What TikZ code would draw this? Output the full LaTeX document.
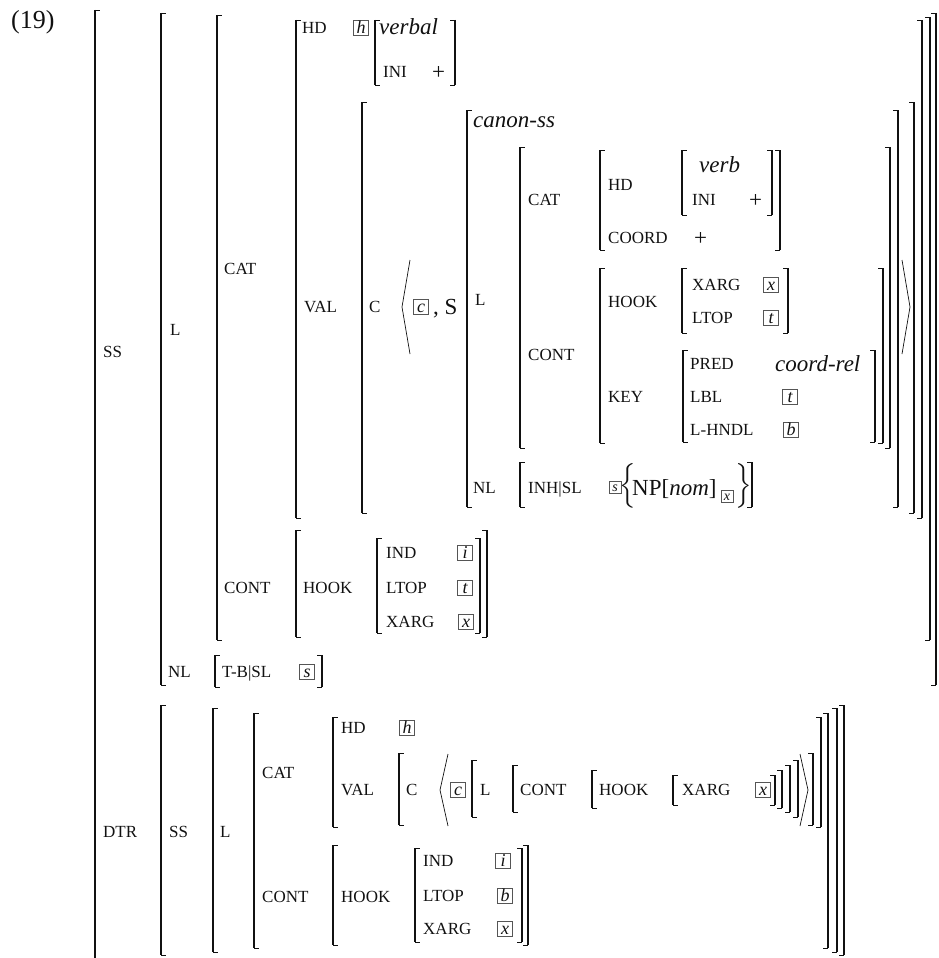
\documentclass[tikz,border=0pt]{standalone}
\usepackage{fontspec}
\setmainfont{Liberation Serif}
\usepackage{amsmath}
\definecolor{ink}{HTML}{111111}
\definecolor{tagline}{HTML}{555555}

% brackets: column, top row, bottom row (pixel units)
\newcommand{\lbrk}[3]{\draw[bar] (#1,#2) -- (#1,#3); \draw[tick] (#1,#2) -- ++(5,0) (#1,#3) -- ++(5,0);}
\newcommand{\rbrk}[3]{\draw[bar] (#1,#2) -- (#1,#3); \draw[tick] (#1,#2) -- ++(-5,0) (#1,#3) -- ++(-5,0);}
% list angles: apex column, middle row, half height
\newcommand{\lang}[3]{\draw[ang] (#1+8,#2-#3) -- (#1,#2) -- (#1+8,#2+#3);}
\newcommand{\rang}[3]{\draw[ang] (#1-8,#2-#3) -- (#1,#2) -- (#1-8,#2+#3);}

\begin{document}
\begin{tikzpicture}[x=1pt,y=-1pt,
  bar/.style={draw=ink,line width=1.1pt},
  tick/.style={draw=ink,line width=0.7pt},
  ang/.style={draw=ink,line width=0.7pt},
  lab/.style={inner sep=0pt,anchor=west,text=ink,font=\fontsize{17}{17}\selectfont,text height=11.3pt,text depth=0pt},
  txt/.style={inner sep=0pt,anchor=west,text=ink,font=\fontsize{23}{23}\selectfont,text height=15.2pt,text depth=0pt},
  itx/.style={txt,font=\fontsize{23}{23}\selectfont\itshape},
  tagbx/.style={draw=tagline,line width=0.6pt,inner sep=0pt,minimum width=15pt,minimum height=15pt,text=ink,text height=11pt,text depth=0pt,font=\fontsize{18}{18}\selectfont\itshape},
  tagsm/.style={tagbx,minimum width=12pt,minimum height=12pt,text height=9pt,font=\fontsize{14}{14}\selectfont\itshape}]
\useasboundingbox (0,0) rectangle (938,958);
\clip (0,0) rectangle (938,958);

\node[txt,font=\fontsize{26}{26}\selectfont] (ex) at (11,21) {(19)};

% whole sign
\lbrk{95}{10}{975}
\node[lab] (ss) at (103,352) {SS};
\node[lab] (dtr) at (103,832) {DTR};

% SS value
\lbrk{161}{13}{685} \rbrk{936}{13}{685}
\node[lab] (l1) at (170,330) {L};
\node[lab] (nl1) at (168,672) {NL};
\lbrk{217}{15}{640} \rbrk{930}{17}{640}
\node[lab] (cat1) at (224,269) {CAT};
\node[lab] (cont1) at (224,588) {CONT};
\lbrk{296}{20}{518} \rbrk{922}{20}{518}
\node[lab] (hd1) at (302,28) {HD};
\node[tagbx] (h1) at (361,28) {h};
\lbrk{375}{20}{85} \rbrk{455}{20}{85}
\node[itx] (verbal) at (379,27) {verbal};
\node[lab] (ini1) at (383,72) {INI};
\node[txt] (pl1) at (432,72) {+};
\node[lab] (val1) at (304,307) {VAL};
\lbrk{362}{102}{513} \rbrk{914}{102}{513}
\node[lab] (c1) at (369,307) {C};
\lang{402}{307}{47}
\node[tagbx] (cb1) at (421,307) {c};
\node[txt] (s1) at (433,307) {, S};
\rang{910}{307}{47}

% canon-ss
\lbrk{467}{110}{507} \rbrk{898}{110}{507}
\node[itx] (canon) at (473,120) {canon-ss};
\node[lab] (l2) at (475,300) {L};
\lbrk{520}{147}{448} \rbrk{890}{147}{448}
\node[lab] (cat2) at (528,200) {CAT};
\lbrk{600}{150}{250} \rbrk{780}{150}{250}
\node[lab] (hd2) at (608,185) {HD};
\lbrk{682}{150}{215} \rbrk{772}{150}{215}
\node[itx] (verb) at (699,165) {verb};
\node[lab] (ini2) at (692,200) {INI};
\node[txt] (pl2) at (749,200) {+};
\node[lab] (coord) at (608,238) {COORD};
\node[txt] (pl3) at (694,238) {+};
\node[lab] (cont2) at (528,355) {CONT};
\lbrk{600}{268}{443} \rbrk{883}{268}{443}
\node[lab] (hook2) at (608,302) {HOOK};
\lbrk{682}{268}{333} \rbrk{788}{268}{333}
\node[lab] (xarg2) at (692,285) {XARG};
\node[tagbx] (x2) at (771,285) {x};
\node[lab] (ltop2) at (692,318) {LTOP};
\node[tagbx] (t2) at (771,318) {t};
\node[lab] (key) at (608,397) {KEY};
\lbrk{683}{350}{442} \rbrk{875}{350}{442}
\node[lab] (pred) at (690,364) {PRED};
\node[itx] (crel) at (775,364) {coord-rel};
\node[lab] (lbl) at (690,397) {LBL};
\node[tagbx] (t3) at (790,397) {t};
\node[lab] (lhndl) at (690,430) {L-HNDL};
\node[tagbx] (b1) at (791,430) {b};
\node[lab] (nl2) at (473,488) {NL};
\lbrk{520}{462}{507} \rbrk{752}{462}{507}
\node[lab] (inh) at (528,488) {INH|SL};
\node[tagsm] (s2) at (615,487) {s};
\node[txt] (lbrc) at (619,485) {$\Big\{$};
\node[txt] (np) at (632,488) {NP[\textit{nom}]};
\node[tagsm] (x3) at (727,496) {x};
\node[txt] (rbrc) at (735,485) {$\Big\}$};

% CONT of the mother
\lbrk{296}{530}{637} \rbrk{487}{530}{637}
\node[lab] (hook1) at (303,588) {HOOK};
\lbrk{377}{538}{633} \rbrk{480}{538}{633}
\node[lab] (ind1) at (386,553) {IND};
\node[tagbx] (i1) at (465,553) {i};
\node[lab] (ltop1) at (386,588) {LTOP};
\node[tagbx] (t1) at (465,588) {t};
\node[lab] (xarg1) at (386,622) {XARG};
\node[tagbx] (x1) at (466,622) {x};

% NL of the mother
\lbrk{215}{655}{687} \rbrk{322}{655}{687}
\node[lab] (tbsl) at (222,672) {T-B|SL};
\node[tagbx] (s3) at (307,672) {s};

% DTR value
\lbrk{161}{705}{955} \rbrk{844}{705}{955}
\node[lab] (ss2) at (169,832) {SS};
\lbrk{213}{708}{952} \rbrk{837}{708}{952}
\node[lab] (l3) at (220,832) {L};
\lbrk{254}{713}{948} \rbrk{828}{713}{948}
\node[lab] (cat3) at (262,773) {CAT};
\lbrk{333}{717}{827} \rbrk{821}{717}{827}
\node[lab] (hd3) at (341,728) {HD};
\node[tagbx] (h2) at (407,728) {h};
\node[lab] (val3) at (341,790) {VAL};
\lbrk{399}{753}{825} \rbrk{813}{753}{825}
\node[lab] (c3) at (406,790) {C};
\lang{440}{790}{36}
\node[tagbx] (cb3) at (458,790) {c};
\lbrk{472}{760}{817} \rbrk{798}{760}{817}
\node[lab] (l4) at (480,790) {L};
\lbrk{513}{765}{812} \rbrk{790}{765}{812}
\node[lab] (cont4) at (520,790) {CONT};
\lbrk{592}{770}{808} \rbrk{782}{770}{808}
\node[lab] (hook4) at (599,790) {HOOK};
\lbrk{673}{775}{805} \rbrk{775}{775}{805}
\node[lab] (xarg4) at (682,790) {XARG};
\node[tagbx] (x4) at (763,790) {x};
\rang{808}{790}{36}
\node[lab] (cont3) at (262,897) {CONT};
\lbrk{333}{845}{945} \rbrk{528}{845}{945}
\node[lab] (hook3) at (341,897) {HOOK};
\lbrk{415}{848}{942} \rbrk{522}{848}{942}
\node[lab] (ind3) at (423,861) {IND};
\node[tagbx] (i3) at (503,861) {i};
\node[lab] (ltop3) at (423,896) {LTOP};
\node[tagbx] (b3) at (505,896) {b};
\node[lab] (xarg3) at (423,929) {XARG};
\node[tagbx] (x5) at (505,929) {x};
\end{tikzpicture}
\end{document}
